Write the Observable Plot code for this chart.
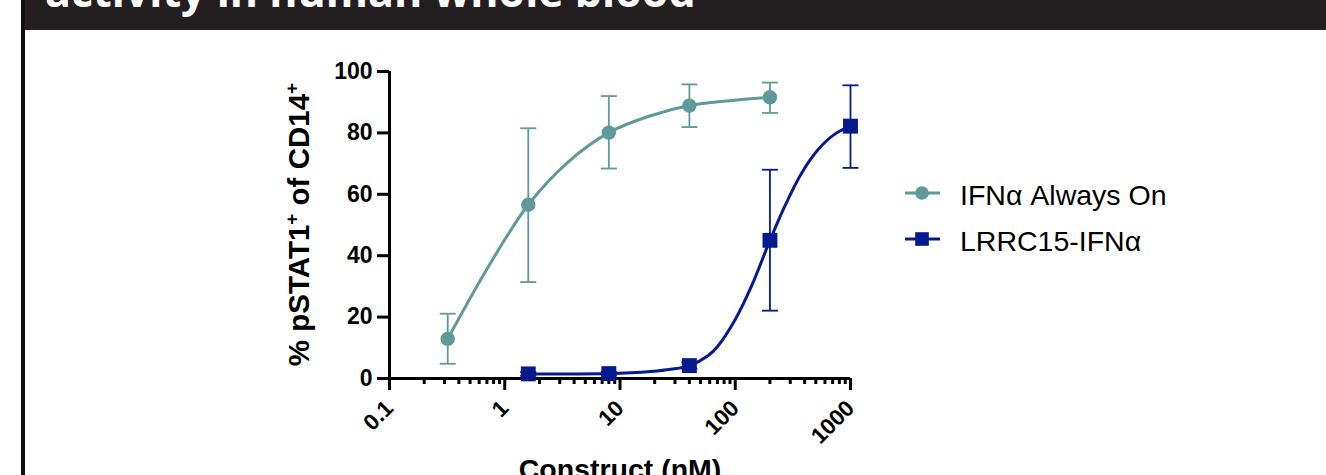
<!DOCTYPE html>
<html>
<head>
<meta charset="utf-8">
<script src="https://cdn.jsdelivr.net/npm/d3@7"></script>
<script src="https://cdn.jsdelivr.net/npm/@observablehq/plot@0.6"></script>
<style>
  html, body { margin: 0; padding: 0; background: #fff; }
  body { width: 1326px; height: 475px; overflow: hidden; position: relative; font-family: "Liberation Sans", Arial, sans-serif; }
  #band { position: absolute; left: 22px; top: 0; width: 1304px; height: 30px; background: #231f20; }
  #vline { position: absolute; left: 21px; top: 0; width: 4px; height: 475px; background: #111; }
  #chart { position: absolute; left: 0; top: 0; }
  #overlay { position: absolute; left: 0; top: 0; pointer-events: none; }
</style>
</head>
<body>
<div id="band"></div>
<div id="vline"></div>
<div id="chart"></div>
<svg id="overlay" width="1326" height="475"></svg>
<script>
// ---- Data ----
const titleText = "activity in human whole blood";
const seriesNames = ["IFNα Always On", "LRRC15-IFNα"];
const seriesColors = ["#5e9a98", "#061a8e"];

// IFNα Always On (circles)
const tealDose = [0.32, 1.6, 8, 40, 200];
const tealMean = [12.9, 56.6, 80.1, 88.9, 91.6];
const tealLow  = [4.8, 31.4, 68.4, 81.9, 86.5];
const tealHigh = [21.1, 81.5, 92.0, 95.8, 96.4];

// LRRC15-IFNα (squares)
const blueDose = [1.6, 8, 40, 200, 1000];
const blueMean = [1.5, 1.6, 4.2, 45.0, 82.2];
const blueLow  = [0.9, 1.0, 3.2, 22.1, 68.6];
const blueHigh = [2.1, 2.2, 5.2, 68.0, 95.5];

// Fitted curves
const tealFitDose = [0.32, 0.72, 1.6, 3.56, 8, 18.1, 40, 90.6, 200];
const tealFitY    = [12.9, 36.4, 56.6, 70.6, 80.1, 85.5, 88.9, 90.5, 91.6];
const blueFitDose = [1.6, 8, 18.6, 27.7, 40, 58, 70.8, 98.6, 138, 200, 268, 375, 524, 731, 1000];
const blueFitY    = [1.5, 1.6, 2.3, 3.0, 4.2, 7.4, 10.6, 18.8, 30.0, 45.0, 56.0, 66.8, 74.6, 79.6, 82.2];

// Axes
const xMajorTicks = [0.1, 1, 10, 100, 1000];
const xMinorTicks = [0.2,0.3,0.4,0.5,0.6,0.7,0.8,0.9, 2,3,4,5,6,7,8,9, 20,30,40,50,60,70,80,90, 200,300,400,500,600,700,800,900];
const yTicks = [0, 20, 40, 60, 80, 100];
const xTitle = "Construct (nM)";

// ---- Build tables ----
const teal = tealDose.map((d, i) => ({dose: d, mean: tealMean[i], lo: tealLow[i], hi: tealHigh[i]}));
const blue = blueDose.map((d, i) => ({dose: d, mean: blueMean[i], lo: blueLow[i], hi: blueHigh[i]}));
const tealFit = tealFitDose.map((d, i) => ({dose: d, y: tealFitY[i]}));
const blueFit = blueFitDose.map((d, i) => ({dose: d, y: blueFitY[i]}));

const capSymbol = {
  draw(ctx, size) {
    const w = Math.sqrt(size / Math.PI);
    ctx.moveTo(-w, 0);
    ctx.lineTo(w, 0);
  }
};

const [tealC, blueC] = seriesColors;
const axW = 3;
const font = "Liberation Sans, Arial, Helvetica, sans-serif";

function errorMarks(data, color) {
  return [
    Plot.ruleX(data, {x: "dose", y1: "lo", y2: "hi", stroke: color, strokeWidth: 1.8}),
    Plot.dot(data, {x: "dose", y: "lo", symbol: capSymbol, r: 8, stroke: color, strokeWidth: 1.8, fill: "none"}),
    Plot.dot(data, {x: "dose", y: "hi", symbol: capSymbol, r: 8, stroke: color, strokeWidth: 1.8, fill: "none"})
  ];
}

const chart = Plot.plot({
  width: 1326,
  height: 475,
  marginLeft: 389,
  marginRight: 476,
  marginTop: 71,
  marginBottom: 97,
  x: {type: "log", domain: [0.1, 1000]},
  y: {domain: [0, 100]},
  style: {background: "transparent", fontFamily: font, color: "#000", overflow: "visible"},
  marks: [
    Plot.axisY({ticks: yTicks, tickSize: 12, tickPadding: 5, strokeWidth: axW, fontSize: 23, fontWeight: "bold", label: null, tickFormat: d => String(d)}),
    Plot.axisX({ticks: xMajorTicks, tickSize: 12, tickPadding: 14, strokeWidth: axW, fontSize: 22.5, fontWeight: "bold", tickRotate: -45, label: null, tickFormat: d => String(d)}),
    Plot.axisX({ticks: xMinorTicks, tickSize: 6, strokeWidth: axW, label: null, tickFormat: () => ""}),
    Plot.ruleX([0.1], {y1: 0, y2: 100, strokeWidth: axW, stroke: "#000"}),
    Plot.ruleY([0], {strokeWidth: axW, stroke: "#000"}),
    ...errorMarks(teal, tealC),
    ...errorMarks(blue, blueC),
    Plot.line(tealFit, {x: "dose", y: "y", stroke: tealC, strokeWidth: 3, curve: "catmull-rom"}),
    Plot.line(blueFit, {x: "dose", y: "y", stroke: blueC, strokeWidth: 3, curve: "catmull-rom"}),
    Plot.dot(teal, {x: "dose", y: "mean", r: 7.2, fill: tealC, stroke: "none"}),
    Plot.dot(blue, {x: "dose", y: "mean", symbol: "square", r: 8.4, fill: blueC, stroke: "none"})
  ]
});
document.getElementById("chart").appendChild(chart);

// ---- Overlay texts: title, axis titles, legend ----
const ov = d3.select("#overlay");
ov.append("text")
  .attr("x", 45).attr("y", 7)
  .attr("fill", "#fff")
  .attr("font-family", "Open Sans, sans-serif")
  .attr("font-weight", "bold")
  .attr("font-size", 43)
  .text(titleText);

// Y axis title with superscripts
const yt = ov.append("text")
  .attr("transform", "translate(309,224.5) rotate(-90)")
  .attr("text-anchor", "middle")
  .attr("font-family", font)
  .attr("font-weight", "bold")
  .attr("font-size", 29.5)
  .attr("fill", "#000");
yt.append("tspan").text("% pSTAT1");
yt.append("tspan").attr("font-size", 19).attr("dy", -11).text("+");
yt.append("tspan").attr("dy", 11).text(" of CD14");
yt.append("tspan").attr("font-size", 19).attr("dy", -11).text("+");

// X axis title
ov.append("text")
  .attr("x", 620).attr("y", 479)
  .attr("text-anchor", "middle")
  .attr("font-family", font)
  .attr("font-weight", "bold")
  .attr("font-size", 28.5)
  .attr("fill", "#000")
  .text(xTitle);

// Legend
const legRows = [
  {name: seriesNames[0], color: tealC, shape: "circle", y: 193},
  {name: seriesNames[1], color: blueC, shape: "square", y: 239}
];
legRows.forEach(r => {
  ov.append("line").attr("x1", 905).attr("x2", 940).attr("y1", r.y).attr("y2", r.y)
    .attr("stroke", r.color).attr("stroke-width", 3);
  if (r.shape === "circle") {
    ov.append("circle").attr("cx", 922).attr("cy", r.y).attr("r", 6.8).attr("fill", r.color);
  } else {
    ov.append("rect").attr("x", 922 - 6.8).attr("y", r.y - 6.8).attr("width", 13.6).attr("height", 13.6).attr("fill", r.color);
  }
  ov.append("text").attr("x", 960).attr("y", r.y + 12)
    .attr("font-family", font).attr("font-size", 28.5).attr("fill", "#000")
    .text(r.name);
});
</script>
</body>
</html>
